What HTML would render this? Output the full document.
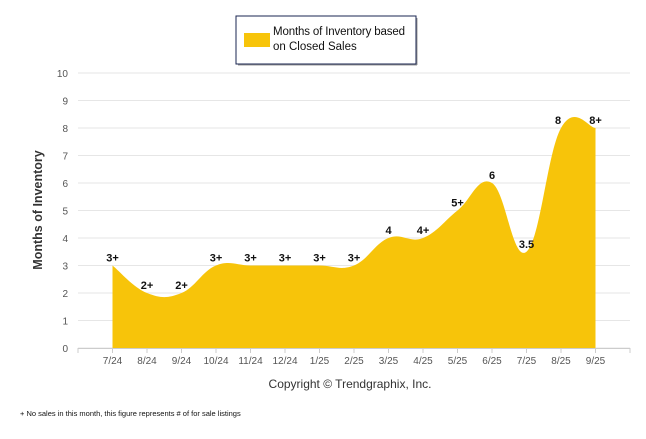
<!DOCTYPE html>
<html><head><meta charset="utf-8"><style>
body{margin:0;background:#fff;font-family:"Liberation Sans",sans-serif}
svg text{font-family:"Liberation Sans",sans-serif}
</style></head><body>
<svg id="c" width="646" height="434">
<rect x="236" y="16" width="180" height="48" fill="#fff" stroke="#1a2550" stroke-width="1"/>
<line x1="238" y1="65" x2="417" y2="65" stroke="#999" stroke-width="1"/>
<line x1="417" y1="18" x2="417" y2="65" stroke="#999" stroke-width="1"/>
<rect x="244" y="33" width="26" height="14" fill="#F7C40A"/>
<text x="273" y="35" font-size="11.5" fill="#111" textLength="132">Months of Inventory based</text>
<text x="273" y="50" font-size="11.5" fill="#111">on Closed Sales</text>
<g id="grid"></g>
<g id="area"></g>
<g id="labels"></g>
<text transform="translate(42,210) rotate(-90)" text-anchor="middle" font-size="12.5" font-weight="bold" fill="#333">Months of Inventory</text>
<text x="350" y="388" text-anchor="middle" font-size="12" fill="#333">Copyright © Trendgraphix, Inc.</text>
<text x="20" y="416" font-size="7.5" fill="#111">+  No sales in this month, this figure represents # of for sale listings</text>
</svg>
<script>
const categories=["7/24","8/24","9/24","10/24","11/24","12/24","1/25","2/25","3/25","4/25","5/25","6/25","7/25","8/25","9/25"];
const values=[3,2,2,3,3,3,3,3,4,4,5,6,3.5,8,8];
const pointLabels=["3+","2+","2+","3+","3+","3+","3+","3+","4","4+","5+","6","3.5","8","8+"];
const yTicks=[0,1,2,3,4,5,6,7,8,9,10];
const NS="http://www.w3.org/2000/svg";
const L=78,R=630,T=73,B=348;
const step=(R-L)/(categories.length+1);
const xs=i=>L+step*(i+1);
const ys=v=>B-(v/10)*(B-T);
function mk(t,a,p){const e=document.createElementNS(NS,t);for(const k in a)e.setAttribute(k,a[k]);p.appendChild(e);return e;}
const g=document.getElementById('grid');
yTicks.forEach(v=>{
 const l=mk('line',{x1:L,x2:R,y1:ys(v),y2:ys(v),stroke:'#e6e6e6'},g);
 
 
 const t=mk('text',{x:68,y:ys(v)+4,'text-anchor':'end','font-size':10,fill:'#555'},g);
 t.textContent=v;
 
 
});
mk('line',{x1:L,x2:R,y1:B+0.5,y2:B+0.5,stroke:'#ccc'},g);
for(let i=0;i<=categories.length+1;i++){
 const x=L+step*i;
 mk('line',{x1:x,x2:x,y1:B,y2:B+5,stroke:'#ccc'},g);
}
categories.forEach((c,i)=>{
 const t=mk('text',{x:xs(i),y:364,'text-anchor':'middle','font-size':10,fill:'#555'},g);
 t.textContent=c;
 
 
});
const pts=values.map((v,i)=>[xs(i),ys(v)]);
let d=`M${pts[0][0]},${B} L${pts[0][0]},${pts[0][1]}`;
const s=1.5;
for(let i=0;i<pts.length-1;i++){
 const p0=pts[i-1]||pts[i],p1=pts[i],p2=pts[i+1],p3=pts[i+2]||p2;
 const c1=[p1[0]+(p2[0]-p0[0])/(2*(s+1)),p1[1]+(p2[1]-p0[1])/(2*(s+1))];
 const c2=[p2[0]-(p3[0]-p1[0])/(2*(s+1)),p2[1]-(p3[1]-p1[1])/(2*(s+1))];
 d+=` C${c1[0]},${c1[1]} ${c2[0]},${c2[1]} ${p2[0]},${p2[1]}`;
}
d+=` L${pts[pts.length-1][0]},${B} Z`;
const a=mk('path',{d:d,fill:'#F7C40A'},document.getElementById('area'));


const lg=document.getElementById('labels');
values.forEach((v,i)=>{
 const t=mk('text',{x:xs(i)+(i==13?-3:0),y:ys(v)-4,'text-anchor':'middle','font-size':11,'font-weight':'bold',fill:'#111'},lg);
 t.textContent=pointLabels[i];
 
 
});
</script>
</body></html>
